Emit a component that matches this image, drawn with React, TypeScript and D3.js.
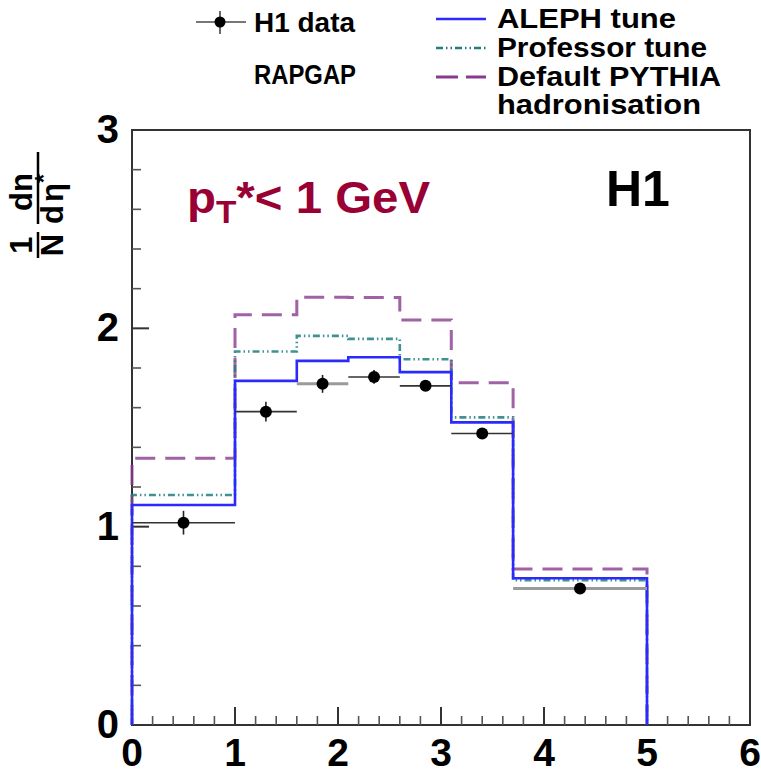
import React from "react";
import * as d3 from "d3";

// Bin edges in eta*
const binEdges = [0, 1.0, 1.6, 2.1, 2.6, 3.1, 3.7, 5.0];
// H1 measurement per bin with statistical errors
const h1Values = [1.02, 1.58, 1.72, 1.755, 1.71, 1.47, 0.688];
const h1Errors = [0.06, 0.05, 0.045, 0.035, 0.02, 0.02, 0.02];
// RAPGAP predictions per bin
const alephTune = [1.109, 1.735, 1.836, 1.854, 1.779, 1.526, 0.74];
const professorTune = [1.16, 1.883, 1.962, 1.947, 1.844, 1.551, 0.73];
const defaultPythia = [1.345, 2.068, 2.157, 2.155, 2.042, 1.726, 0.787];
// Axis ticks
const xTicks = [0, 1, 2, 3, 4, 5, 6];
const yTicks = [0, 1, 2, 3];

const W = 761;
const H = 775;
const FONT = "'Liberation Sans', Arial, Helvetica, sans-serif";

const BLUE = "#2a2aff";
const TEAL = "#1f7f7f";
const PURPLE = "#8a3a8e";

export default function App() {
  const x = d3.scaleLinear().domain([0, 6]).range([132, 750]);
  const y = d3.scaleLinear().domain([0, 3]).range([725, 130]);

  const stepPath = (vals: number[]) => {
    const pts: [number, number][] = [[binEdges[0], 0]];
    vals.forEach((v, i) => {
      pts.push([binEdges[i], v]);
      pts.push([binEdges[i + 1], v]);
    });
    pts.push([binEdges[binEdges.length - 1], 0]);
    return d3
      .line<[number, number]>()
      .x((d) => x(d[0]))
      .y((d) => y(d[1]))(pts) as string;
  };

  const xMinor = d3.range(0, 6.0001, 0.2).filter((v) => Math.abs(v - Math.round(v)) > 1e-6);
  const yMinor = d3.range(0, 3.0001, 0.2).filter((v) => Math.abs(v - Math.round(v)) > 1e-6);

  const tealDash = "7 3 1.5 3 1.5 3";
  const purpleDash = "20 10";

  return (
    <svg
      width={W}
      height={H}
      style={{ position: "absolute", left: 0, top: 0, background: "#fff" }}
      fontFamily={FONT}
    >
      {/* Frame */}
      <rect x={x(0)} y={y(3)} width={x(6) - x(0)} height={y(0) - y(3)} fill="none" stroke="#333" strokeWidth={2} />

      {/* Bottom ticks */}
      {xTicks.map((t) => (
        <line key={"xM" + t} x1={x(t)} x2={x(t)} y1={y(0)} y2={y(0) - 18} stroke="#333" strokeWidth={2} />
      ))}
      {xMinor.map((t, i) => (
        <line key={"xm" + i} x1={x(t)} x2={x(t)} y1={y(0)} y2={y(0) - 9} stroke="#555" strokeWidth={1.6} />
      ))}
      {/* Left ticks */}
      {yTicks.map((t) => (
        <line key={"yM" + t} x1={x(0)} x2={x(0) + 17} y1={y(t)} y2={y(t)} stroke="#333" strokeWidth={2} />
      ))}
      {yMinor.map((t, i) => (
        <line key={"ym" + i} x1={x(0)} x2={x(0) + 9} y1={y(t)} y2={y(t)} stroke="#555" strokeWidth={1.6} />
      ))}

      {/* Tick labels */}
      {xTicks.map((t) => (
        <text key={"xl" + t} x={x(t)} y={766} textAnchor="middle" fontSize={39} fontWeight="bold" fill="#000">
          {t}
        </text>
      ))}
      {yTicks.map((t) => (
        <text key={"yl" + t} x={119} y={y(t) + 13} textAnchor="end" fontSize={40} fontWeight="bold" fill="#000">
          {t}
        </text>
      ))}

      {/* Axis title: 1/N dn/deta* */}
      <g transform="translate(38,198) rotate(-90)" fontWeight="bold" fontSize={31} fill="#000">
        <text x={-47} y={-6} textAnchor="middle">1</text>
        <line x1={-60} x2={-34} y1={0} y2={0} stroke="#000" strokeWidth={2.5} />
        <text x={-47} y={25} textAnchor="middle">N</text>
        <text x={6} y={-6} textAnchor="middle">dn</text>
        <line x1={-26} x2={46} y1={0} y2={0} stroke="#000" strokeWidth={2.5} />
        <text x={-26} y={25}>
          d
          <tspan dx={3}>η</tspan>
          <tspan dy={-11} fontSize={24}>*</tspan>
        </text>
      </g>

      {/* Predictions */}
      <path d={stepPath(defaultPythia)} fill="none" stroke={PURPLE} strokeOpacity={0.8} strokeWidth={3} strokeDasharray={purpleDash} />
      <path d={stepPath(professorTune)} fill="none" stroke={TEAL} strokeOpacity={0.85} strokeWidth={2.6} strokeDasharray={tealDash} />
      <path d={stepPath(alephTune)} fill="none" stroke={BLUE} strokeWidth={2.6} />

      {/* H1 data */}
      {h1Values.map((v, i) => {
        const x0 = binEdges[i];
        const x1 = binEdges[i + 1];
        const xc = (x0 + x1) / 2;
        const shaded = i === 2 || i === 6;
        return (
          <g key={"d" + i}>
            <line
              x1={x(x0)}
              x2={x(x1)}
              y1={y(v)}
              y2={y(v)}
              stroke={shaded ? "#9a9a9a" : "#333"}
              strokeWidth={shaded ? 3 : 1.6}
            />
            <line x1={x(xc)} x2={x(xc)} y1={y(v + h1Errors[i])} y2={y(v - h1Errors[i])} stroke="#222" strokeWidth={1.6} />
            <circle cx={x(xc)} cy={y(v)} r={6} fill="#000" />
          </g>
        );
      })}

      {/* Labels inside frame */}
      <text x={187} y={213} fontSize={44} fontWeight="bold" fill="#990033" textLength={243} lengthAdjust="spacingAndGlyphs">
        p
        <tspan fontSize={31} dy={10}>T</tspan>
        <tspan dy={-10}>*&lt; 1 GeV</tspan>
      </text>
      <text x={606} y={206} fontSize={50} fontWeight="bold" fill="#000">H1</text>

      {/* Legend */}
      <g fontSize={27} fontWeight="bold" fill="#000">
        <line x1={196} x2={246} y1={22} y2={22} stroke="#777" strokeWidth={2} />
        <line x1={220} x2={220} y1={11} y2={34} stroke="#444" strokeWidth={1.6} />
        <circle cx={220} cy={22} r={5.5} fill="#000" />
        <text x={254} y={32} textLength={101} lengthAdjust="spacingAndGlyphs">H1 data</text>
        <text x={254} y={84} textLength={102} lengthAdjust="spacingAndGlyphs">RAPGAP</text>

        <line x1={436} x2={486} y1={19} y2={19} stroke={BLUE} strokeWidth={2.6} />
        <text x={497} y={28} textLength={179} lengthAdjust="spacingAndGlyphs">ALEPH tune</text>
        <line x1={436} x2={486} y1={48} y2={48} stroke={TEAL} strokeWidth={2.6} strokeDasharray={tealDash} />
        <text x={497} y={57} textLength={210} lengthAdjust="spacingAndGlyphs">Professor tune</text>
        <line x1={436} x2={486} y1={77} y2={77} stroke={PURPLE} strokeWidth={3} strokeDasharray="22 8" />
        <text x={497} y={86} textLength={224} lengthAdjust="spacingAndGlyphs">Default PYTHIA</text>
        <text x={497} y={114} textLength={204} lengthAdjust="spacingAndGlyphs">hadronisation</text>
      </g>
    </svg>
  );
}
